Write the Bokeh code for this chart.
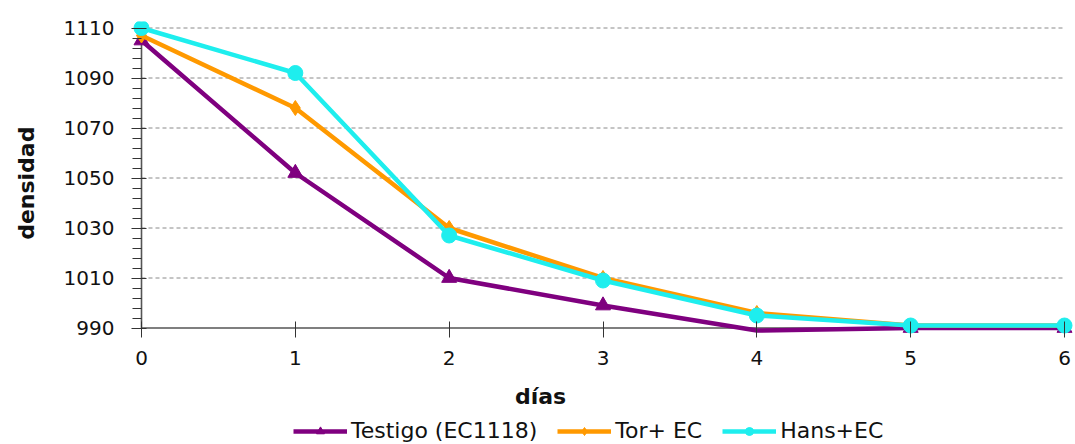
from bokeh.plotting import figure
from bokeh.models import (Range1d, FixedTicker, Legend, LegendItem, Label,
                          ColumnDataSource, CDSView, BooleanFilter)
from bokeh.embed import file_html
from bokeh.resources import INLINE

dias = [0, 1, 2, 3, 4, 5, 6]
testigo = [1105, 1052, 1010, 999, 989, 990, 990]
tor_ec = [1107, 1078, 1030, 1010, 996, 991, 991]
hans_ec = [1110, 1092, 1027, 1009, 995, 991, 991]

x_ticks = [0, 1, 2, 3, 4, 5, 6]
y_ticks = [990, 1010, 1030, 1050, 1070, 1090, 1110]
y_minor = list(range(990, 1111, 4))
grid_vals = [1010, 1030, 1050, 1070, 1090, 1110]

FONT = "DejaVu Sans"

p = figure(width=1075, height=444, output_backend="svg", toolbar_location=None,
           x_range=Range1d(-0.0585, 6.0585), y_range=Range1d(943.4, 1112.6),
           min_border_left=132, min_border_right=2, min_border_top=21,
           min_border_bottom=0)
p.outline_line_color = None
p.background_fill_color = "white"
p.border_fill_color = "white"

p.xaxis.ticker = FixedTicker(ticks=x_ticks)
p.yaxis.ticker = FixedTicker(ticks=y_ticks, minor_ticks=y_minor)
for ax in (p.xaxis, p.yaxis):
    ax.axis_line_color = None
    ax.major_tick_line_color = "#333333"
    ax.minor_tick_line_color = "#333333"
    ax.major_label_text_font = FONT
    ax.major_label_text_font_size = "20px"
    ax.major_label_text_color = "#111111"
    ax.axis_label_text_font = FONT
    ax.axis_label_text_font_style = "bold"
    ax.axis_label_text_font_size = "22px"
    ax.axis_label_text_color = "#111111"
p.xaxis.fixed_location = y_ticks[0]
p.xaxis.major_tick_in = 7
p.xaxis.major_tick_out = 9
p.xaxis.minor_tick_in = 0
p.xaxis.minor_tick_out = 0
p.xaxis.major_label_standoff = 14
p.yaxis.bounds = (y_ticks[0], y_ticks[-1])
p.yaxis.major_tick_in = 14
p.yaxis.major_tick_out = 1
p.yaxis.minor_tick_in = 9
p.yaxis.minor_tick_out = 0
p.yaxis.major_label_standoff = 17
# leading non-breaking spaces lift the title to the middle of the tick span
p.yaxis.axis_label = "\u00a0" * 13 + "densidad"
p.yaxis.axis_label_standoff = 22

p.xgrid.visible = False
p.ygrid.visible = False

# dashed gridlines spanning the tick extent
p.segment(x0=[x_ticks[0]] * len(grid_vals), x1=[x_ticks[-1]] * len(grid_vals),
          y0=grid_vals, y1=grid_vals, line_color="#8a8a8a", line_width=1,
          line_dash="4 3")
# axis lines
p.segment(x0=[x_ticks[0]], x1=[x_ticks[-1]], y0=[y_ticks[0]], y1=[y_ticks[0]],
          line_color="#555555", line_width=1.6)
p.segment(x0=[x_ticks[0]], x1=[x_ticks[0]], y0=[y_ticks[0]], y1=[y_ticks[-1]],
          line_color="#555555", line_width=1.6)

c1, c2, c3 = "#7F007F", "#FF9900", "#1EEEEE"
src1 = ColumnDataSource(dict(x=dias, y=testigo))
# markers of points below the axis minimum are not shown (as in the original)
view1 = CDSView(filter=BooleanFilter([v >= y_ticks[0] for v in testigo]))
l1 = p.line("x", "y", source=src1, line_color=c1, line_width=4.5)
m1 = p.scatter("x", "y", source=src1, view=view1, marker="triangle", size=15, color=c1)
l2 = p.line(dias, tor_ec, line_color=c2, line_width=4.5)
m2 = p.scatter(dias, tor_ec, marker="diamond", size=15, color=c2)
l3 = p.line(dias, hans_ec, line_color=c3, line_width=4.5)
m3 = p.scatter(dias, hans_ec, marker="circle", size=15, color=c3)

# x-axis title, centred under the chart as in the original
p.add_layout(Label(x=2.594, y=962.6, text="días", text_font=FONT,
                   text_font_style="bold", text_font_size="22px",
                   text_color="#111111", text_align="center",
                   text_baseline="middle"))

legend = Legend(items=[
    LegendItem(label="Testigo (EC1118)", renderers=[l1, m1]),
    LegendItem(label="Tor+ EC", renderers=[l2, m2]),
    LegendItem(label="Hans+EC", renderers=[l3, m3]),
], orientation="horizontal", location=(161, 1))
legend.label_text_font = FONT
legend.label_text_font_size = "22px"
legend.label_text_color = "#111111"
legend.glyph_width = 54
legend.label_standoff = 4
legend.spacing = 20
legend.border_line_color = None
legend.background_fill_alpha = 0
legend.padding = 0
legend.margin = 0
p.add_layout(legend)

open("out.html", "w").write(file_html(p, INLINE))
